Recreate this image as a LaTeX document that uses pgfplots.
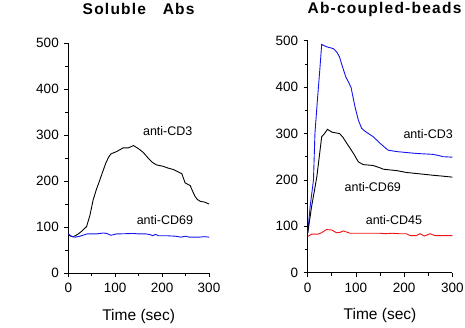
\documentclass[border=0pt]{standalone}
\usepackage{pgfplots}
\pgfplotsset{compat=1.18}
\usepackage{fontspec}
\setmainfont{Liberation Sans}
\newfontfamily\titlefont[LetterSpace=8]{Liberation Sans}
\definecolor{cblue}{RGB}{20,20,240}
\definecolor{cred}{RGB}{240,20,20}
\pgfplotsset{
  myax/.style={
    scale only axis,
    axis lines=left,
    axis line style={-, line width=0.8pt},
    xmin=0, xmax=300, ymin=0, ymax=500,
    xtick={0,100,200,300}, ytick={0,100,200,300,400,500},
    minor x tick num=1, minor y tick num=1,
    tick align=outside,
    major tick length=4pt, minor tick length=3pt,
    tick style={line width=0.8pt, black},
    /pgf/number format/assume math mode=true,
    ticklabel style={font=\fontsize{13.5}{14}\selectfont},
    xticklabel style={yshift=-3pt},
    yticklabel style={xshift=-2pt},
    xlabel={Time (sec)},
    xlabel style={at={(axis description cs:0.5,0)}, anchor=center, yshift=-43pt, font=\fontsize{15.5}{16}\selectfont},
    clip=false,
    every axis plot/.append style={line width=0.9pt, mark=none},
  }
}
\begin{document}
\begin{tikzpicture}[x=1pt,y=1pt]
\useasboundingbox (0,0) rectangle (465,327);
\begin{axis}[myax, at={(68.3pt,54pt)}, anchor=south west, width=140.7pt, height=230pt]
\addplot[black] coordinates {
(0,83) (5,80) (11,79) (20,84) (30,92) (39,101) (46,125) (53,159) (60,182) (67.5,203) (74,222) (80,239) (86,252) (91,259) (103,264) (117,272) (128,272) (139,277) (150,270) (160,262) (170,250) (180,240) (188,235) (202,232) (213,228) (224,225) (234,220) (242,216) (249,196) (260,190) (265,178) (270,167) (275,160) (281,156) (291,154) (300,150)
};
\addplot[cblue] coordinates {
(0,85) (8,79) (15,78) (25,80) (40,85) (60,85) (75,87) (82,86) (91,82) (103,85) (125,85.5) (139,86) (150,85) (166,85) (176,83) (180,81) (186,84) (192,81) (210,81) (228,80) (240,78) (250,80) (258,78) (280,78) (290,79) (300,78)
};
\node[font=\fontsize{12.5}{13}\selectfont] at (axis cs:212,309) {anti-CD3};
\node[font=\fontsize{12.5}{13}\selectfont] at (axis cs:206,115) {anti-CD69};
\end{axis}
\begin{axis}[myax, at={(307.7pt,54.3pt)}, anchor=south west, width=144.6pt, height=232pt]
\addplot[cblue] coordinates {
(0,85) (5,142) (12,200) (15,300) (20,370) (25.6,444) (29,492) (39,487) (53,483) (60,476) (66,465) (70,451) (79,422) (85,410) (90,399) (98,358) (105,329) (112,311) (120,304) (126,300) (136,293) (150,279) (160,270) (167,264) (185,261) (205,259) (226,257) (260,255) (270,253) (281,250) (300,249)
};
\addplot[black] coordinates {
(0,85) (8,142) (19,207) (29,293) (35,300) (41,309) (50,303) (60,301) (66,300) (73,292) (81,279) (88,268) (95,257) (105,239) (115,233) (136,231) (150,226) (157,223) (185,220) (205,216) (233,213) (260,210) (281,208) (300,206)
};
\addplot[cred] coordinates {
(0,78) (8,83) (22,83) (30,87) (39,93) (50,92) (60,86) (67,87) (74,90) (88,85) (122,85) (150,85) (160,84) (175,85) (190,84) (205,84) (212,80) (225,80) (233,84) (242,79) (254,84) (264,80) (280,80) (300,80)
};
\node[font=\fontsize{12.5}{13}\selectfont] at (axis cs:250,299) {anti-CD3};
\node[font=\fontsize{12.5}{13}\selectfont] at (axis cs:135,185) {anti-CD69};
\node[font=\fontsize{12.5}{13}\selectfont] at (axis cs:179,114) {anti-CD45};
\end{axis}
\node[font=\titlefont\bfseries\fontsize{15.5}{16}\selectfont] at (138.6,318) {Soluble\ \ \ Abs};
\node[font=\titlefont\bfseries\fontsize{15.5}{16}\selectfont] at (384.5,318) {Ab-coupled-beads};
\end{tikzpicture}
\end{document}
